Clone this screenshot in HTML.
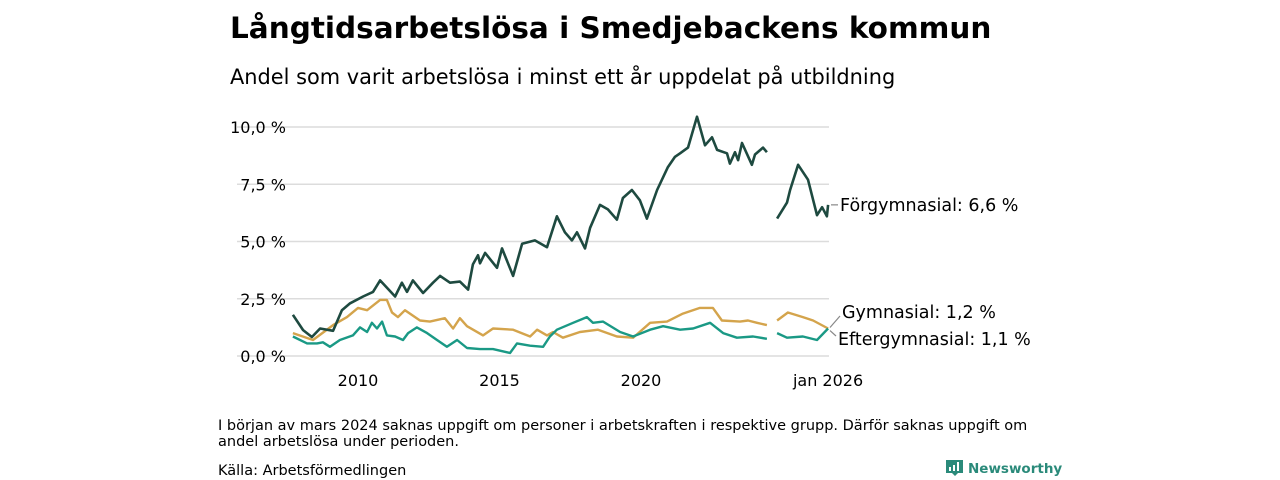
<!DOCTYPE html>
<html><head><meta charset="utf-8"><style>
body{margin:0;background:#fff;font-family:"DejaVu Sans","Liberation Sans",sans-serif;color:#111;}
svg{display:block}
</style></head><body>
<svg width="1280" height="480" viewBox="0 0 1280 480">
<text x="230" y="38" font-size="29.5" font-weight="bold">Långtidsarbetslösa i Smedjebackens kommun</text>
<text x="230" y="84" font-size="20.9">Andel som varit arbetslösa i minst ett år uppdelat på utbildning</text>
<g id="grid"></g><g id="xaxis"></g><g id="lines"></g><g id="labels"></g>
<text x="218" y="430" font-size="14.5">I början av mars 2024 saknas uppgift om personer i arbetskraften i respektive grupp. Därför saknas uppgift om</text>
<text x="218" y="446" font-size="14.5">andel arbetslösa under perioden.</text>
<text x="218" y="475" font-size="14.5">Källa: Arbetsförmedlingen</text>
<g>
<path d="M946 460h17v13h-5l-3 3-3-3h-6z" fill="#2a8a7a"/>
<rect x="949" y="467" width="2" height="4" fill="#fff"/><rect x="953" y="465" width="2" height="6" fill="#fff"/><rect x="957" y="462" width="2" height="9" fill="#fff"/>
<text x="968" y="473" font-size="13.5" font-weight="bold" fill="#2a8a7a">Newsworthy</text>
</g>
</svg>
<script>
const yTicks=[0,2.5,5,7.5,10];
const yTickLabels=["0,0 %","2,5 %","5,0 %","7,5 %","10,0 %"];
const xTicks=[2010,2015,2020];
const xTickLabels=["2010","2015","2020"];
const lastLabel="jan 2026";
const forYears=[2007.70,2008.06,2008.37,2008.66,2009.12,2009.43,2009.72,2010.18,2010.53,2010.78,2011.31,2011.55,2011.73,2011.94,2012.30,2012.65,2012.90,2013.25,2013.60,2013.89,2014.06,2014.24,2014.31,2014.49,2014.91,2015.09,2015.30,2015.48,2015.80,2016.25,2016.68,2017.03,2017.31,2017.56,2017.74,2018.02,2018.20,2018.55,2018.83,2019.15,2019.36,2019.68,2019.96,2020.21,2020.57,2020.95,2021.20,2021.38,2021.66,2021.98,2022.26,2022.51,2022.69,2023.04,2023.14,2023.32,2023.43,2023.57,2023.92,2024.03,2024.31,2024.45,null,2024.81,2025.16,2025.27,2025.55,2025.90,2026.22,2026.40,2026.57,2026.61];
const forValues=[1.8,1.13,0.83,1.2,1.1,2.0,2.3,2.6,2.8,3.3,2.6,3.2,2.8,3.3,2.75,3.2,3.5,3.2,3.25,2.9,4.0,4.4,4.05,4.5,3.85,4.7,4.05,3.5,4.9,5.05,4.75,6.1,5.4,5.05,5.4,4.7,5.6,6.6,6.4,5.95,6.9,7.25,6.8,6.0,7.25,8.25,8.7,8.85,9.1,10.45,9.2,9.55,9.0,8.85,8.4,8.9,8.55,9.3,8.35,8.8,9.1,8.9,null,6.0,6.7,7.25,8.35,7.7,6.15,6.5,6.1,6.6];
const gymYears=[2007.70,2008.41,2009.12,2009.61,2010.0,2010.32,2010.78,2011.02,2011.20,2011.41,2011.66,2012.19,2012.54,2013.07,2013.36,2013.60,2013.85,2014.42,2014.77,2015.48,2016.08,2016.33,2016.68,2016.89,2017.24,2017.84,2018.48,2019.15,2019.72,2020.32,2020.92,2021.48,2022.08,2022.54,2022.86,2023.50,2023.78,2024.10,2024.45,null,2024.81,2025.19,2025.72,2026.08,2026.61];
const gymValues=[1.0,0.7,1.35,1.7,2.1,2.0,2.45,2.45,1.9,1.7,2.0,1.55,1.5,1.65,1.2,1.65,1.3,0.9,1.2,1.15,0.85,1.15,0.9,1.05,0.8,1.05,1.15,0.85,0.8,1.45,1.5,1.85,2.1,2.1,1.55,1.5,1.55,1.45,1.35,null,1.55,1.9,1.7,1.55,1.2];
const eftYears=[2007.70,2008.20,2008.55,2008.76,2009.01,2009.36,2009.82,2010.07,2010.32,2010.49,2010.67,2010.85,2011.02,2011.31,2011.59,2011.77,2012.08,2012.44,2012.79,2013.14,2013.50,2013.85,2014.31,2014.77,2015.37,2015.62,2016.08,2016.54,2016.78,2017.03,2017.60,2018.09,2018.30,2018.66,2019.26,2019.72,2020.32,2020.78,2021.38,2021.84,2022.44,2022.90,2023.39,2023.96,2024.45,null,2024.81,2025.16,2025.72,2026.22,2026.61];
const eftValues=[0.85,0.55,0.55,0.6,0.4,0.7,0.9,1.25,1.05,1.45,1.2,1.5,0.9,0.85,0.7,1.0,1.25,1.0,0.7,0.4,0.7,0.35,0.3,0.3,0.13,0.55,0.45,0.4,0.85,1.15,1.45,1.7,1.45,1.5,1.05,0.85,1.15,1.3,1.15,1.2,1.45,1.0,0.8,0.85,0.75,null,1.0,0.8,0.85,0.7,1.2];
const NS="http://www.w3.org/2000/svg";
const X=y=>358+(y-2010)*28.3;
const Y=v=>356-v*22.9;
function mk(tag,attrs,parent,txt){const e=document.createElementNS(NS,tag);for(const k in attrs)e.setAttribute(k,attrs[k]);if(txt!=null)e.textContent=txt;document.getElementById(parent).appendChild(e);return e;}
yTicks.forEach((t,i)=>{
 const l=mk('line',{x1:237,x2:829,y1:Y(t),y2:Y(t),stroke:'#dcdcdc','stroke-width':1.5},'grid');
 
 
 const tx=mk('text',{x:286,y:Y(t)+6,'font-size':16,'text-anchor':'end'},'grid',yTickLabels[i]);
 
 
});
xTicks.forEach((t,i)=>{
 const tx=mk('text',{x:X(t),y:386,'font-size':16,'text-anchor':'middle'},'xaxis',xTickLabels[i]);
 
 
});
{const lastYear=forYears[forYears.length-1];
 const tx=mk('text',{x:X(lastYear),y:386,'font-size':16,'text-anchor':'middle'},'xaxis',lastLabel);
 
 }
function path(ys,vs){let d='',pen=false;for(let i=0;i<ys.length;i++){if(ys[i]==null||vs[i]==null){pen=false;continue;}d+=(pen?'L':'M')+X(ys[i]).toFixed(1)+' '+Y(vs[i]).toFixed(1);pen=true;}return d;}
const gp=mk('path',{d:path(gymYears,gymValues),fill:'none',stroke:'#d4a44c','stroke-width':2.4,'stroke-linejoin':'round'},'lines');


const ep=mk('path',{d:path(eftYears,eftValues),fill:'none',stroke:'#1a9985','stroke-width':2.4,'stroke-linejoin':'round'},'lines');


const fp=mk('path',{d:path(forYears,forValues),fill:'none',stroke:'#1e4a40','stroke-width':2.6,'stroke-linejoin':'round'},'lines');


const fv=forValues[forValues.length-1],gv=gymValues[gymValues.length-1];
mk('line',{x1:831,x2:838,y1:Y(fv),y2:Y(fv),stroke:'#888','stroke-width':1.2},'labels');
const l1=mk('text',{x:840,y:Y(fv)+6,'font-size':17.5},'labels','Förgymnasial: 6,6 %');


mk('line',{x1:830,x2:840,y1:Y(gv)-1,y2:316,stroke:'#888','stroke-width':1.2},'labels');
const l2=mk('text',{x:842,y:318,'font-size':17.5},'labels','Gymnasial: 1,2 %');


mk('line',{x1:830,x2:836,y1:Y(gv)+2,y2:336,stroke:'#888','stroke-width':1.2},'labels');
const l3=mk('text',{x:838,y:345,'font-size':17.5},'labels','Eftergymnasial: 1,1 %');


</script>
</body></html>
